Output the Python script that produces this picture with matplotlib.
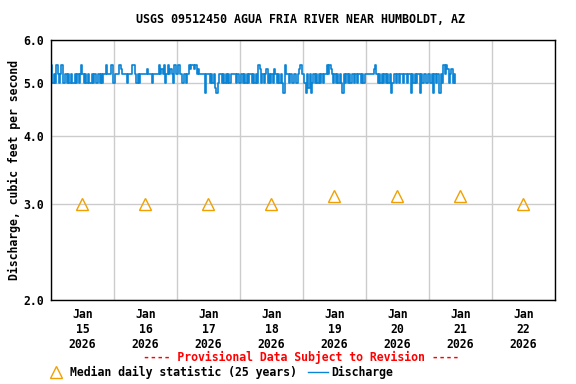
import numpy as np
import pandas as pd
import matplotlib
matplotlib.use("Agg")
import matplotlib.pyplot as plt
import matplotlib.dates as mdates
from matplotlib.lines import Line2D
from matplotlib.ticker import FixedLocator, NullLocator, FormatStrFormatter

# discharge, 30 minute readings (cfs)
jan15 = [5.4, 5.0, 5.2, 5.0, 5.4, 5.2, 5.0, 5.2, 5.4, 5.0, 5.0, 5.2,
         5.0, 5.2, 5.0, 5.2, 5.0, 5.0, 5.2, 5.0, 5.2, 5.0, 5.2, 5.4,
         5.2, 5.0, 5.2, 5.0, 5.2, 5.0, 5.0, 5.2, 5.0, 5.2, 5.0, 5.0,
         5.2, 5.0, 5.2, 5.0, 5.2, 5.2, 5.4, 5.2, 5.2, 5.2, 5.4, 5.0]
jan16 = [5.0, 5.2, 5.2, 5.2, 5.4, 5.3, 5.2, 5.2, 5.2, 5.2, 5.0, 5.2,
         5.2, 5.2, 5.4, 5.4, 5.2, 5.0, 5.2, 5.0, 5.2, 5.2, 5.2, 5.2,
         5.2, 5.3, 5.2, 5.2, 5.2, 5.0, 5.2, 5.2, 5.2, 5.2, 5.4, 5.2,
         5.3, 5.2, 5.4, 5.0, 5.2, 5.4, 5.2, 5.3, 5.2, 5.0, 5.4, 5.2]
jan17 = [5.2, 5.4, 5.2, 5.2, 5.0, 5.2, 5.2, 5.0, 5.2, 5.4, 5.3, 5.4,
         5.4, 5.3, 5.4, 5.2, 5.3, 5.2, 5.2, 5.2, 5.2, 4.8, 5.2, 5.2,
         5.2, 5.0, 5.2, 5.0, 5.2, 4.9, 4.8, 5.0, 5.2, 5.2, 5.0, 5.2,
         5.0, 5.2, 5.0, 5.2, 5.0, 5.2, 5.2, 5.2, 5.2, 5.0, 5.2, 5.0]
jan18 = [5.0, 5.2, 5.0, 5.2, 5.0, 5.2, 5.0, 5.2, 5.2, 5.0, 5.2, 5.0,
         5.2, 5.0, 5.4, 5.3, 5.0, 5.2, 5.0, 5.2, 5.3, 5.0, 5.2, 5.0,
         5.2, 5.0, 5.3, 5.2, 5.0, 5.2, 5.0, 5.2, 5.0, 4.8, 5.4, 5.2,
         5.2, 5.0, 5.2, 5.2, 5.0, 5.2, 5.2, 5.0, 5.2, 5.3, 5.4, 5.2]
jan19 = [5.2, 5.0, 4.8, 5.2, 4.9, 5.2, 4.8, 5.0, 5.2, 5.0, 5.2, 5.0,
         5.2, 5.0, 5.2, 5.0, 5.2, 5.2, 5.4, 5.2, 5.4, 5.3, 5.2, 5.0,
         5.2, 5.0, 5.2, 5.0, 5.2, 5.0, 4.8, 5.2, 5.0, 5.2, 5.0, 5.2,
         5.0, 5.2, 5.2, 5.0, 5.2, 5.0, 5.2, 5.2, 5.0, 5.2, 5.0, 5.2]
jan20 = [5.2, 5.2, 5.2, 5.2, 5.2, 5.2, 5.3, 5.4, 5.2, 5.0, 5.2, 5.0,
         5.2, 5.0, 5.2, 5.0, 5.2, 5.0, 5.2, 4.8, 5.0, 5.2, 5.2, 5.0,
         5.2, 5.0, 5.2, 5.2, 5.0, 5.2, 5.2, 5.0, 5.2, 5.2, 4.8, 5.2,
         5.0, 5.2, 5.0, 5.2, 5.2, 4.8, 5.2, 5.0, 5.2, 5.2, 5.0, 5.2]
jan21 = [5.2, 5.0, 5.2, 4.8, 5.2, 5.0, 5.2, 5.2, 4.8, 5.2, 5.0, 5.4,
         5.2, 5.4, 5.3, 5.0, 5.2, 5.3, 5.0, 5.2, 5.0]

# median daily statistic (25 years), plotted at noon
median_days = ["2026-01-15", "2026-01-16", "2026-01-17", "2026-01-18",
               "2026-01-19", "2026-01-20", "2026-01-21", "2026-01-22"]
median_vals = [3.0, 3.0, 3.0, 3.0, 3.1, 3.1, 3.1, 3.0]

yticks = [2.0, 3.0, 4.0, 5.0, 6.0]

flow = jan15 + jan16 + jan17 + jan18 + jan19 + jan20 + jan21
times = pd.date_range("2026-01-15 00:00", periods=len(flow), freq="30min")
mtimes = pd.to_datetime(median_days) + pd.Timedelta(hours=12)

plt.rcParams['font.family'] = ['DejaVu Sans Mono']
plt.rcParams['font.weight'] = 'bold'

fig = plt.figure(figsize=(5.76, 3.84), dpi=100)
ax = fig.add_axes([0.0885, 0.2187, 0.875, 0.6771])

ax.plot(times, flow, color='#0a84d4', lw=1.2, drawstyle='steps-post')
ax.plot(mtimes, median_vals, ls='none', marker='^', ms=8, mfc='none',
        mec='#f0a000', mew=1.0)

ax.set_yscale('log')
ax.set_ylim(2.0, 6.0)
ax.yaxis.set_major_locator(FixedLocator(yticks))
ax.yaxis.set_minor_locator(NullLocator())
ax.yaxis.set_major_formatter(FormatStrFormatter('%.1f'))

x0 = pd.Timestamp("2026-01-15")
x1 = pd.Timestamp("2026-01-23")
ax.set_xlim(x0, x1)
days = pd.date_range(x0, x1, freq="D")
ax.set_xticks(mtimes)
ax.set_xticklabels([d.strftime("%b\n%d\n%Y") for d in mtimes])
ax.xaxis.set_minor_locator(FixedLocator(mdates.date2num(days)))

ax.grid(True, which='minor', axis='x', color='#cccccc', lw=1)
ax.grid(True, which='major', axis='y', color='#cccccc', lw=1)
ax.set_axisbelow(True)
ax.tick_params(which='both', length=0, labelsize=8.3, pad=6)
ax.tick_params(axis='y', pad=5)
for s in ax.spines.values():
    s.set_linewidth(1.0)

ax.set_ylabel('Discharge, cubic feet per second', fontsize=8.3,
              fontweight='bold', labelpad=2)
fig.text(0.5225, 0.948, 'USGS 09512450 AGUA FRIA RIVER NEAR HUMBOLDT, AZ',
         ha='center', va='center', fontsize=8.4, fontweight='bold')
fig.text(0.523, 0.068, '---- Provisional Data Subject to Revision ----',
         ha='center', va='center', fontsize=8.3, fontweight='bold', color='red')

handles = [Line2D([], [], ls='none', marker='^', ms=8, mfc='none',
                  mec='#f0a000', mew=1.0),
           Line2D([], [], color='#0a84d4', lw=1.0)]
fig.legend(handles, ['Median daily statistic (25 years)', 'Discharge'],
           loc='center left', bbox_to_anchor=(0.08, 0.031), ncol=2,
           frameon=False, fontsize=8.3, handlelength=1.8, handletextpad=0.3,
           columnspacing=0.9, borderpad=0, borderaxespad=0)

fig.savefig('out.png', dpi=100)
